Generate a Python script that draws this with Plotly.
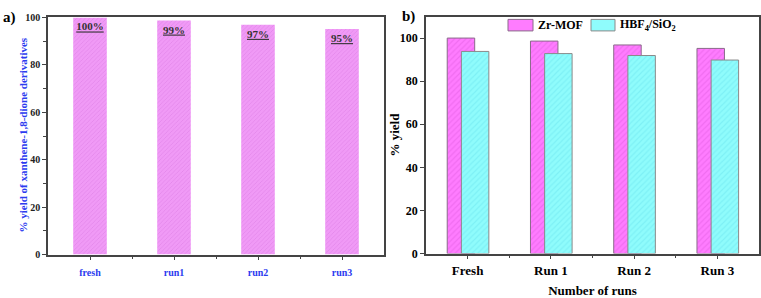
import plotly.graph_objects as go

# ---- data ----
cats_a = ["fresh", "run1", "run2", "run3"]
yield_a = [100, 98.7, 96.9, 95.1]
labels_a = ["100%", "99%", "97%", "95%"]

cats_b = ["Fresh", "Run 1", "Run 2", "Run 3"]
zr_mof = [100, 98.6, 96.8, 95.2]
hbf4_sio2 = [93.8, 92.8, 91.9, 89.8]
legend_names = ["Zr-MOF", "HBF<sub>4</sub>/SiO<sub>2</sub>"]

W, H = 761, 298
def px_x(v): return v / W
def px_y(v): return 1 - v / H

FONT = "Liberation Serif"
xs = list(range(len(cats_a)))

PINK_A = "#f09af6"
PINK_B = "#ff7cff"
CYAN_B = "#8ffcfc"

fig = go.Figure()

fig.add_trace(go.Bar(
    x=xs, y=yield_a, xaxis="x", yaxis="y", width=0.4,
    text=["<b><u>%s</u></b>" % t for t in labels_a],
    textposition="inside", insidetextanchor="end",
    textfont=dict(family=FONT, size=11, color="#333333"),
    constraintext="none",
    marker=dict(color=PINK_A, line=dict(width=0),
                pattern=dict(shape="/", fgcolor="#d472de", bgcolor=PINK_A,
                             size=3, solidity=0.25)),
    showlegend=False,
))

fig.add_trace(go.Bar(
    x=xs, y=zr_mof, xaxis="x2", yaxis="y2", name=legend_names[0],
    width=0.33, offset=-0.245,
    marker=dict(color=PINK_B, line=dict(width=1, color="#8a6a8a"),
                pattern=dict(shape="/", fgcolor="#e25ee2", bgcolor=PINK_B,
                             size=4, solidity=0.3)),
    showlegend=False,
))
fig.add_trace(go.Bar(
    x=xs, y=hbf4_sio2, xaxis="x2", yaxis="y2", name=legend_names[1],
    width=0.33, offset=-0.075,
    marker=dict(color=CYAN_B, line=dict(width=1, color="#8a8a8a"),
                pattern=dict(shape="/", fgcolor="#6ee4ee", bgcolor=CYAN_B,
                             size=4, solidity=0.3)),
    showlegend=False,
))

axis_common = dict(showline=True, linecolor="#444444", linewidth=1.5, mirror=True,
                   showgrid=False, zeroline=False, ticks="outside", tickcolor="#444444",
                   ticklen=4, tickwidth=1.2)

shapes = [
    dict(type="rect", xref="paper", yref="paper",
         x0=px_x(508), x1=px_x(533), y0=px_y(27), y1=px_y(15),
         fillcolor=PINK_B, line=dict(color="#8a6a8a", width=1)),
    dict(type="rect", xref="paper", yref="paper",
         x0=px_x(591), x1=px_x(615), y0=px_y(27), y1=px_y(15),
         fillcolor=CYAN_B, line=dict(color="#8a8a8a", width=1)),
]

annotations = [
    dict(text="<b>a)</b>", x=px_x(1), y=px_y(2), xref="paper", yref="paper",
         xanchor="left", yanchor="top", showarrow=False,
         font=dict(family=FONT, size=15, color="black")),
    dict(text="<b>b)</b>", x=px_x(400), y=px_y(1), xref="paper", yref="paper",
         xanchor="left", yanchor="top", showarrow=False,
         font=dict(family=FONT, size=15, color="black")),
    dict(text="<b>%s</b>" % legend_names[0], x=px_x(536), y=px_y(21), xref="paper", yref="paper",
         xanchor="left", yanchor="middle", showarrow=False,
         font=dict(family=FONT, size=12, color="black")),
    dict(text="<b>%s</b>" % legend_names[1], x=px_x(618), y=px_y(21), xref="paper", yref="paper",
         xanchor="left", yanchor="middle", showarrow=False,
         font=dict(family=FONT, size=12, color="black")),
    dict(text="<b>% yield of xanthene-1,8-dione derivatives</b>", textangle=-90,
         x=px_x(23), y=px_y(136), xref="paper", yref="paper",
         xanchor="center", yanchor="middle", showarrow=False,
         font=dict(family=FONT, size=11, color="#2b3bef")),
    dict(text="<b>% yield</b>", textangle=-90,
         x=px_x(395), y=px_y(135), xref="paper", yref="paper",
         xanchor="center", yanchor="middle", showarrow=False,
         font=dict(family=FONT, size=13, color="black")),
]

fig.update_layout(
    width=W, height=H, margin=dict(l=0, r=0, t=0, b=0),
    paper_bgcolor="white", plot_bgcolor="white",
    barmode="overlay", showlegend=False,
    font=dict(family=FONT, color="black"),
    xaxis=dict(domain=[px_x(48), px_x(384)], anchor="y", range=[-0.5, 3.5],
               tickvals=xs, ticktext=["<b>%s</b>" % c for c in cats_a],
               tickfont=dict(family=FONT, size=10, color="#2b3bef"),
               ticklabelstandoff=4,
               minor=dict(tickvals=[0.5, 1.5, 2.5], ticks="outside", ticklen=3,
                          tickcolor="#444444"),
               **axis_common),
    yaxis=dict(domain=[px_y(260), px_y(13)], anchor="x", range=[0, 100],
               tickvals=[0, 20, 40, 60, 80, 100],
               ticktext=["<b>%d</b>" % v for v in [0, 20, 40, 60, 80, 100]],
               tickfont=dict(family=FONT, size=10, color="#222222"),
               minor=dict(dtick=10, ticks="outside", ticklen=3, tickcolor="#444444"),
               **axis_common),
    xaxis2=dict(domain=[px_x(426), px_x(759)], anchor="y2", range=[-0.5, 3.5],
                tickvals=xs, ticktext=["<b>%s</b>" % c for c in cats_b],
                tickfont=dict(family=FONT, size=13, color="black"),
                minor=dict(tickvals=[0.5, 1.5, 2.5], ticks="outside", ticklen=3,
                           tickcolor="#444444"),
                title=dict(text="<b>Number of runs</b>",
                           font=dict(family=FONT, size=13, color="black"), standoff=10),
                **axis_common),
    yaxis2=dict(domain=[px_y(259), px_y(12)], anchor="x2", range=[0, 110],
                tickvals=[0, 20, 40, 60, 80, 100],
                ticktext=["<b>%d</b>" % v for v in [0, 20, 40, 60, 80, 100]],
                tickfont=dict(family=FONT, size=12, color="black"),
                **axis_common),
    shapes=shapes,
    annotations=annotations,
)

fig.write_html(
    "out.html",
    config={"displayModeBar": False},
    post_script="document.body.style.margin='0';document.documentElement.style.overflow='hidden';",
)
